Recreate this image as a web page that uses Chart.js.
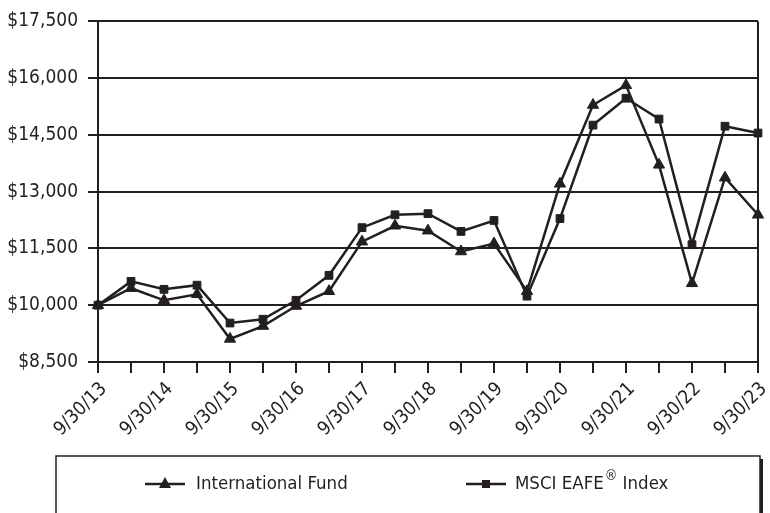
<!DOCTYPE html>
<html>
<head>
<meta charset="utf-8">
<script src="https://cdn.jsdelivr.net/npm/chart.js@4"></script>
<style>
  html, body { margin: 0; padding: 0; background: #fff; }
  #wrap { width: 770px; height: 513px; }
</style>
</head>
<body>
<div id="wrap"><canvas id="myChart"></canvas></div>
<script>
// Datos ---------------------------------------------------------------
const dates = ['9/30/13', '3/31/14', '9/30/14', '3/31/15', '9/30/15', '3/31/16', '9/30/16',
  '3/31/17', '9/30/17', '3/31/18', '9/30/18', '3/31/19', '9/30/19', '3/31/20', '9/30/20',
  '3/31/21', '9/30/21', '3/31/22', '9/30/22', '3/31/23', '9/30/23'];
const fundValues = [10000, 10450, 10130, 10290, 9110, 9450, 9980, 10370, 11680, 12100, 11970,
  11420, 11630, 10370, 13210, 15290, 15810, 13710, 10580, 13370, 12390];
const indexValues = [10000, 10630, 10420, 10530, 9530, 9630, 10130, 10790, 12050, 12390, 12420,
  11950, 12240, 10240, 12290, 14760, 15470, 14920, 11600, 14730, 14550];
const yTicks = [8500, 10000, 11500, 13000, 14500, 16000, 17500];
const seriesNames = ['International Fund', 'MSCI EAFE', '\u00AE', ' Index'];

const ink = '#231f20';
const fontFam = "'Liberation Sans Narrow', 'DejaVu Sans Condensed', 'Liberation Sans', sans-serif";

// Leyenda dibujada a mano con caja
const legendBox = {
  id: 'legendBox',
  afterDraw(chart) {
    const c = chart.ctx;
    c.save();
    c.strokeStyle = ink;
    c.lineWidth = 1.5;
    c.beginPath();
    c.moveTo(56, 520);
    c.lineTo(56, 456);
    c.lineTo(760, 456);
    c.lineTo(760, 520);
    c.stroke();
    c.lineWidth = 3;
    c.beginPath();
    c.moveTo(761.5, 459);
    c.lineTo(761.5, 520);
    c.stroke();

    const y = 484;
    // simbolo fondo
    c.lineWidth = 2.5;
    c.beginPath(); c.moveTo(145, y); c.lineTo(185, y); c.stroke();
    c.fillStyle = ink;
    c.beginPath(); c.moveTo(165, y - 7); c.lineTo(171, y + 4); c.lineTo(159, y + 4); c.closePath(); c.fill();
    // simbolo indice
    c.beginPath(); c.moveTo(466, y); c.lineTo(506, y); c.stroke();
    c.fillRect(482, y - 4, 8, 8);

    c.textBaseline = 'middle';
    c.textAlign = 'left';
    c.font = '18.5px ' + fontFam;
    c.fillText(seriesNames[0], 196, y);
    c.fillText(seriesNames[1], 515, y);
    let x = 515 + c.measureText(seriesNames[1]).width + 1;
    c.font = '14px ' + fontFam;
    c.fillText(seriesNames[2], x, y - 8);
    x += c.measureText(seriesNames[2]).width;
    c.font = '18.5px ' + fontFam;
    c.fillText(seriesNames[3], x, y);
    c.restore();
  }
};

const ctx = document.getElementById('myChart');
new Chart(ctx, {
  type: 'line',
  data: {
    labels: dates,
    datasets: [{
      label: 'International Fund',
      data: fundValues,
      borderColor: ink,
      backgroundColor: ink,
      borderWidth: 2.5,
      pointStyle: 'triangle',
      pointRadius: 6.5,
      pointBorderWidth: 1,
      tension: 0
    }, {
      label: 'MSCI EAFE\u00AE Index',
      data: indexValues,
      borderColor: ink,
      backgroundColor: ink,
      borderWidth: 2.5,
      pointStyle: 'rect',
      pointRadius: 5.5,
      pointBorderWidth: 1,
      tension: 0
    }]
  },
  options: {
    responsive: true,
    maintainAspectRatio: false,
    animation: false,
    layout: { padding: { top: 16, right: 12, bottom: 0, left: 0 } },
    scales: {
      x: {
        afterFit: (scale) => {
          scale.height = 151;
          scale.paddingLeft = 0;
          scale.paddingRight = 0;
        },
        grid: {
          color: (c) => c.index === dates.length - 1 ? ink : 'rgba(0,0,0,0)',
          tickColor: ink,
          lineWidth: 2,
          tickLength: 11,
          drawOnChartArea: true
        },
        border: { display: true, color: ink, width: 2 },
        ticks: {
          autoSkip: false,
          maxRotation: 45,
          minRotation: 45,
          padding: 5,
          labelOffset: 6,
          color: ink,
          font: { family: fontFam, size: 19 },
          callback: function (val, i) { return i % 2 === 0 ? dates[i] : ''; }
        }
      },
      y: {
        min: 8500,
        max: 17500,
        afterFit: (scale) => { scale.width = 98; },
        afterBuildTicks: (scale) => { scale.ticks = yTicks.map(v => ({ value: v })); },
        grid: { color: ink, lineWidth: 2, tickLength: 10, tickColor: ink },
        border: { display: true, color: ink, width: 2 },
        ticks: {
          padding: 10,
          color: ink,
          font: { family: fontFam, size: 19 },
          callback: (v) => '$' + Number(v).toLocaleString('en-US')
        }
      }
    },
    plugins: {
      legend: { display: false },
      tooltip: { enabled: false }
    }
  },
  plugins: [legendBox]
});
</script>
</body>
</html>
